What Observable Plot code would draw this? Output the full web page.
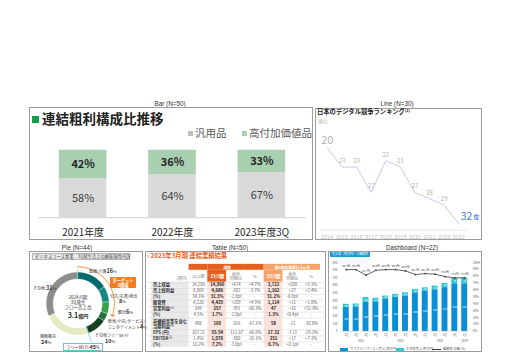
<!DOCTYPE html>
<html><head><meta charset="utf-8">
<script src="https://cdn.jsdelivr.net/npm/d3@7"></script>
<script src="https://cdn.jsdelivr.net/npm/@observablehq/plot@0.6"></script>
<style>
html,body{margin:0;padding:0;background:#fff;}
#root{position:relative;width:511px;height:359px;overflow:hidden;font-family:"Noto Sans CJK JP","Noto Sans",sans-serif;}
.abs{position:absolute;white-space:nowrap;}
.panel{position:absolute;box-sizing:border-box;border:1px solid #9c9c9c;}
svg{overflow:visible;}
</style></head><body><div id="root"></div>
<script>
// ---------- data ----------
const captions = ["Bar (N=50)","Line (N=30)","Pie (N=44)","Table (N=50)","Dashboard (N=22)"];

const barYears = ["2021年度","2022年度","2023年度3Q"];
const barSeries = ["汎用品","高付加価値品"];
const generalShare = [58,64,67];
const premiumShare = [42,36,33];

const rankYears = [2014,2015,2016,2017,2018,2019,2020,2021,2022,2023];
const ranks = [20,23,23,27,22,23,27,28,29,32];

const pieLabels = ["医療/介護","公共/交通/物流","観光","飲食/小売/サービス/エンタテイメント","その他フリーWi-Fi","機器販売","その他"];
const pieValues = [16,8,6,4,10,24,31];

const rowLabels = ["売上収益","売上総利益","(%)","販管費","営業利益⁽¹⁾","(%)","非継続事業を含む\n当期利益⁽²⁾","EPS (円)","EBITDA⁽³⁾","(%)"];
const colHeaders = ["22/3期","23/3期","前年\n同期比","%","23/3期","前年\n同期比","%"];
const groupHeaders = ["通期","第4四半期累計 3ヵ月"];
const fy22   = ["14,286","4,869","34.1%","4,220","649","4.5%","486","167.21","1,456","10.2%"];
const fy23   = ["14,960","4,686","31.3%","4,429","257","1.7%","160","55.54","1,076","7.2%"];
const yoyDiff= ["+674","-182","-2.8pt","+209","-391","-2.8pt","-326","-111.67","-380","-3.0pt"];
const yoyPct = ["+4.7%","-3.7%","-","+4.9%","-60.3%","-","-67.1%","-66.8%","-26.1%","-"];
const q4     = ["3,722","1,162","31.2%","1,114","47","1.3%","58","17.32","251","6.7%"];
const q4Diff = ["+180","+27","-0.8pt","+11","+16","+0.4pt","-21","-7.11","+17","+0.1pt"];
const q4Pct  = ["+5.1%","+2.4%","-","+1.0%","+52.8%","-","-38.8%","-29.1%","+7.1%","-"];

const dashYears = ["2021","2021","2021","2021","2022","2022","2022","2022","2023","2023","2023","2023","2024"];
const dashQuarters = ["1Q","2Q","3Q","4Q","1Q","2Q","3Q","4Q","1Q","2Q","3Q","4Q","1Q"];
const dashSeries = ["サブスクリプション売上(百万円)","その他売上(百万円)"];
const subsRevenue = [315,321,385,388,425,445,464,505,528,545,573,623,623];
const otherRevenue = [40,38,60,45,38,40,42,45,43,48,55,70,78];
const retentionRate = [89.9,89.9,81.7,88.9,89.9,89.9,88.0,82.7,84.1,83.2,79.8,77.9,77.9];
const dashLeftTicks = [0,100,200,300,400,500,600,700,800,900];
const dashRightTicks = [0,10,20,30,40,50,60,70,80,90,100];

// ---------- helpers ----------
const CJK = '"Noto Sans CJK JP","Noto Sans",sans-serif';
const root = document.getElementById("root");
function add(html, css){const d=document.createElement("div");d.className="abs";d.innerHTML=html;Object.assign(d.style,css);root.appendChild(d);return d;}
function label(html,x,y,size,o={}){
  const tx=o.anchor==="middle"?"-50%":o.anchor==="end"?"-100%":"0";
  return add(html,Object.assign({left:x+"px",top:y+"px",fontSize:size+"px",lineHeight:o.lh||"1",color:o.color||"#333",
    fontWeight:o.weight||"normal",transform:`translate(${tx},-50%)`,textAlign:o.anchor==="middle"?"center":"left",fontFamily:o.font||CJK},o.css||{}));
}
function panel(x,y,w,h){const p=document.createElement("div");p.className="panel";Object.assign(p.style,{left:x+"px",top:y+"px",width:w+"px",height:h+"px"});root.appendChild(p);return p;}
function mount(p,svg){svg.style.position="absolute";svg.style.left="-1px";svg.style.top="-1px";p.appendChild(svg);}
const baseStyle={fontFamily:CJK,background:"transparent",overflow:"visible"};

// ---------- captions ----------
const capPos=[[170,104],[397,104],[77,248],[230,248],[412,248]];
captions.forEach((c,i)=>label(c,capPos[i][0],capPos[i][1],6.3,{anchor:"middle",font:'"Liberation Sans",Arial,sans-serif',color:"#333"}));

// ---------- Bar ----------
const barColors=["#d9d9d9","#a8d0b0"];
const barRows=barYears.flatMap((yr,i)=>[{year:yr,series:barSeries[0],value:generalShare[i]},{year:yr,series:barSeries[1],value:premiumShare[i]}]);
const pBar=panel(29,107,284,133);
mount(pBar,Plot.plot({
  width:284,height:133,marginLeft:9,marginRight:5,marginTop:43,marginBottom:22,style:baseStyle,
  x:{domain:barYears,paddingInner:0.467,paddingOuter:0.2335},
  y:{domain:[0,100],axis:null},
  color:{domain:barSeries,range:barColors},
  marks:[
    Plot.barY(barRows,{x:"year",y:"value",fill:"series",order:barSeries}),
    Plot.ruleY([0],{stroke:"#cfcfcf"}),
    Plot.text(barRows,Plot.stackY({x:"year",y:"value",z:"series",order:barSeries,text:d=>d.series===barSeries[1]?d.value+"%":null,fontWeight:"bold",fontSize:11,fill:"#262626"})),
    Plot.text(barRows,Plot.stackY({x:"year",y:"value",z:"series",order:barSeries,text:d=>d.series===barSeries[0]?d.value+"%":null,fontSize:11,fill:"#404040"})),
    Plot.axisX({tickSize:0,tickPadding:11,fontSize:10,fill:"#262626",label:null})
  ]
}));
add("",{left:"32px",top:"115.5px",width:"7px",height:"7px",background:"#12a048"});
label("連結粗利構成比推移",42,119,13.5,{weight:"bold",color:"#222"});
barSeries.forEach((s,i)=>{
  const x=[188,242][i];
  add("",{left:x+"px",top:"130.5px",width:"5px",height:"5px",background:barColors[i]==="#d9d9d9"?"#bfbfbf":barColors[i]});
  label(s,x+7,133,10.5,{color:"#595959"});
});

// ---------- Line ----------
const rankData=rankYears.map((y,i)=>({year:y,rank:ranks[i]}));
const nR=rankData.length;
const pLine=panel(315,108,167,132);
mount(pLine,Plot.plot({
  width:167,height:132,marginLeft:5,marginRight:14,marginTop:40,marginBottom:9,style:baseStyle,
  x:{domain:[2014,2023],range:[12,145]},
  y:{domain:[20,32],range:[40,117],axis:null},
  marks:[
    Plot.frame({anchor:"bottom",stroke:"#e6e6e6"}),
    Plot.line(rankData,{x:"year",y:"rank",stroke:"#c7c9e7",strokeWidth:1}),
    Plot.text(rankData,{filter:(d,i)=>i===0,x:"year",y:"rank",text:d=>String(d.rank),fontSize:11,fill:"#b3b3b3",dy:-8}),
    Plot.text(rankData,{filter:(d,i)=>i>0&&i<nR-1,x:"year",y:"rank",text:d=>String(d.rank),fontSize:6,fill:"#b3b3b3",dy:-6}),
    Plot.text(rankData,{filter:(d,i)=>i===nR-1,x:"year",y:"rank",text:d=>String(d.rank),fontSize:10.5,fill:"#3b7dd8",textAnchor:"start",dx:2,dy:-8}),
    Plot.text(rankData,{filter:(d,i)=>i===nR-1,x:"year",y:"rank",text:()=>"位",fontSize:5.5,fill:"#3b7dd8",fontWeight:"bold",textAnchor:"start",dx:15,dy:-7}),
    Plot.axisX(rankYears,{tickSize:0,tickPadding:5,fontSize:5.5,fill:"#bdbdbd",tickFormat:d=>String(d),label:null})
  ]
}));
label('日本のデジタル競争ランキング<span style="font-size:4px;vertical-align:2px">(2)</span>',317,111.5,6.3,{weight:"bold",color:"#222"});
label("順位",318,120,5,{color:"#b5b5b5"});

// ---------- Pie ----------
const pieColors=["#006a6c","#118a80","#3a9f49","#25733a","#173f22","#e3ebc4","#8d8d8d"];
const innerR=0.78;
const arcs=d3.pie().sort(null).value(d=>d)(pieValues);
const piePts=arcs.flatMap((a,i)=>{
  const n=Math.max(3,Math.ceil((a.endAngle-a.startAngle)/0.04)),pts=[];
  for(let k=0;k<=n;k++){const t=a.startAngle+(a.endAngle-a.startAngle)*k/n;pts.push({slice:pieLabels[i],x:Math.sin(t),y:Math.cos(t)});}
  for(let k=n;k>=0;k--){const t=a.startAngle+(a.endAngle-a.startAngle)*k/n;pts.push({slice:pieLabels[i],x:innerR*Math.sin(t),y:innerR*Math.cos(t)});}
  return pts;
});
const targetEnd=arcs[2].endAngle;
const arrowPts=d3.range(0,41).map(k=>{const t=targetEnd*k/40;return {x:1.17*Math.sin(t),y:1.17*Math.cos(t)};});
const wifiEnd=arcs[4].endAngle;
const ticks=[{a:arcs[0].startAngle,r1:0.8,r2:1.07},{a:wifiEnd,r1:0.78,r2:1.3}].map(d=>({x1:d.r1*Math.sin(d.a),y1:d.r1*Math.cos(d.a),x2:d.r2*Math.sin(d.a),y2:d.r2*Math.cos(d.a)}));
const pPie=panel(29,251,114,101);
mount(pPie,Plot.plot({
  width:114,height:101,margin:0,style:baseStyle,
  x:{domain:[-1,1],range:[17,81],axis:null},
  y:{domain:[-1,1],range:[85,21],axis:null},
  color:{domain:pieLabels,range:pieColors},
  marks:[
    Plot.line(piePts,{x:"x",y:"y",z:"slice",fill:"slice",stroke:"white",strokeWidth:0.3,curve:"linear-closed"}),
    Plot.line(arrowPts,{x:"x",y:"y",stroke:"#f08022",strokeWidth:0.9,markerEnd:"arrow"}),
    Plot.link(ticks,{x1:"x1",y1:"y1",x2:"x2",y2:"y2",stroke:"#74cfd6",strokeWidth:0.8})
  ]
}));
add('ビジネスユース事業　3Q発生売上の顧客属性内訳',{left:"32px",top:"253px",width:"98px",height:"6.5px",background:"#e8e8e8",border:"0.5px solid #b5b5b5",boxSizing:"border-box",fontSize:"4.3px",lineHeight:"5.5px",color:"#444",paddingLeft:"2px"});
const pl=(h,x,y,s,o)=>label(h,x,y,s||4,o||{color:"#333"});
pl('医療/介護<b style="font-size:5.5px">16</b>%',89,272);
add('ターゲット<br>3領域',{left:"110px",top:"277px",width:"26px",height:"11px",background:"#f47c20",color:"#fff",fontSize:"4.2px",lineHeight:"5px",textAlign:"center",fontWeight:"bold",paddingTop:"0.5px",boxSizing:"border-box"});
pl('公共/交通/物流',110,295.5);
pl('<b style="font-size:5.5px">8</b>%',119,302);
pl('観光<b style="font-size:5.5px">6</b>%',118,313);
pl('飲食/小売/サービス/',108,321);
pl('エンタテイメント<b style="font-size:5.5px">4</b>%',108,327.5);
pl('その他フリーWi-Fi',95,335);
pl('<b style="font-size:5.5px">10</b>%',105,341.5);
pl('機器販売',40,336);
pl('<b style="font-size:5.5px">24</b>%',41,342.5);
pl('その他 <b style="font-size:5.5px">31</b>%',33,289);
add('フリーWi-Fi <b style="font-size:5.5px">45</b>%',{left:"63px",top:"343px",width:"40px",height:"8px",border:"0.8px solid #63c8d0",background:"#fff",boxSizing:"border-box",fontSize:"4.2px",lineHeight:"6.5px",textAlign:"center",color:"#333"});
label('2024/6期<br>3Q発生<br>フロー売上高',78,302,4.5,{anchor:"middle",lh:"5px",color:"#333"});
label('<b style="font-size:7px">3.1</b><b>億円</b>',78,315,5,{anchor:"middle",color:"#222"});

// ---------- Table ----------
const colKeys=["L1","L2","c0","c1","c2","c3","c4","c5","c6"];
const valKeys=colKeys.slice(2);
const rowKeys=["gh","sh1","sh2","r0","r1","r2","r3","r4","r5","r6a","r6b","r7","r8","r9"];
const bodyKeys=["r0","r1","r2","r3","r4","r5","r6a","r7","r8","r9"];
const bodySlots=bodyKeys.concat(["r6b"]);
const tableCols=[fy22,fy23,yoyDiff,yoyPct,q4,q4Diff,q4Pct];
const tH=101,tTop=9,bw=(tH-tTop)/rowKeys.length,cw=(181-2)/colKeys.length;
const cells=[];
rowLabels.forEach((lab,i)=>tableCols.forEach((col,j)=>cells.push({row:bodyKeys[i],col:valKeys[j],text:col[i],bold:j===1||j===4,dbl:bodyKeys[i]==="r6a"})));
const labelRows=rowLabels.map((lab,i)=>({row:bodyKeys[i],col:"L1",text:lab,dbl:bodyKeys[i]==="r6a"}));
const bgLabel=bodySlots.flatMap(r=>["L1","L2"].map(c=>({row:r,col:c})));
const bgPink=bodySlots.flatMap(r=>["c1","c4"].map(c=>({row:r,col:c})));
const ghCells=valKeys.map((c,j)=>({row:"gh",col:c,g:j<4?0:1}));
const shCells=["sh1","sh2"].flatMap(r=>[{row:r,col:"c1",g:0},{row:r,col:"c4",g:1}]);
const subHead=colHeaders.map((h,j)=>({row:"sh1",col:valKeys[j],text:h,hl:j===1||j===4}));
const groupText=[{row:"gh",col:"c1",text:groupHeaders[0],dx:cw/2},{row:"gh",col:"c5",text:groupHeaders[1],dx:0}];
const lineKeys=["sh2","r0","r1","r2","r3","r4","r5","r6b","r7","r8"];
const pTab=panel(145,251,181,101);
const orangeD="#e4601e",orangeL="#f4a46b";
mount(pTab,Plot.plot({
  width:181,height:tH,marginLeft:2,marginRight:0,marginTop:tTop,marginBottom:0,style:baseStyle,
  x:{domain:colKeys,padding:0,axis:null},
  y:{domain:rowKeys,padding:0,axis:null},
  marks:[
    Plot.cell(bgLabel,{x:"col",y:"row",fill:"#e9e9e9"}),
    Plot.cell(bgPink,{x:"col",y:"row",fill:"#fbe3db"}),
    Plot.cell(ghCells,{filter:d=>d.g===0,x:"col",y:"row",fill:orangeD}),
    Plot.cell(ghCells,{filter:d=>d.g===1,x:"col",y:"row",fill:orangeL}),
    Plot.cell(shCells,{filter:d=>d.g===0,x:"col",y:"row",fill:orangeD}),
    Plot.cell(shCells,{filter:d=>d.g===1,x:"col",y:"row",fill:orangeL}),
    Plot.ruleY(lineKeys,{dy:bw/2,stroke:"#d2d2d2",strokeWidth:0.5}),
    Plot.text(groupText,{filter:d=>d.dx>0,x:"col",y:"row",text:"text",dx:cw/2,fill:"white",fontWeight:"bold",fontSize:3.8}),
    Plot.text(groupText,{filter:d=>d.dx===0,x:"col",y:"row",text:"text",fill:"white",fontWeight:"bold",fontSize:3.8}),
    Plot.text(subHead,{filter:d=>d.hl,x:"col",y:"row",text:"text",dy:bw/2,fill:"white",fontWeight:"bold",fontSize:4.3}),
    Plot.text(subHead,{filter:d=>!d.hl,x:"col",y:"row",text:"text",dy:bw/2,fill:"#808080",fontSize:4.1,lineHeight:1.15}),
    Plot.text([{row:"sh2",col:"L2",text:"(億円)"}],{x:"col",y:"row",text:"text",textAnchor:"end",dx:cw/2-2,fill:"#808080",fontSize:4.1}),
    Plot.text(labelRows,{filter:d=>!d.dbl,x:"col",y:"row",text:"text",textAnchor:"start",dx:-cw/2+2,fill:"#333",fontWeight:"bold",fontSize:4.3}),
    Plot.text(labelRows,{filter:d=>d.dbl,x:"col",y:"row",text:"text",textAnchor:"start",dx:-cw/2+2,dy:bw/2,fill:"#333",fontWeight:"bold",fontSize:4.3,lineHeight:1.2}),
    Plot.text(cells,{filter:d=>d.bold&&!d.dbl,x:"col",y:"row",text:"text",fill:"#222",fontWeight:"bold",fontSize:4.3}),
    Plot.text(cells,{filter:d=>!d.bold&&!d.dbl,x:"col",y:"row",text:"text",fill:"#5a5a5a",fontSize:4.3}),
    Plot.text(cells,{filter:d=>d.bold&&d.dbl,x:"col",y:"row",text:"text",dy:bw/2,fill:"#222",fontWeight:"bold",fontSize:4.3}),
    Plot.text(cells,{filter:d=>!d.bold&&d.dbl,x:"col",y:"row",text:"text",dy:bw/2,fill:"#5a5a5a",fontSize:4.3})
  ]
}));
label('› 2023年3月期 連結業績結果',147,255.5,6.3,{weight:"bold",color:orangeD});

// ---------- Dashboard ----------
const dashKeys=dashYears.map((y,i)=>y+"-"+i);
const dashRows=dashKeys.flatMap((k,i)=>[{key:k,series:dashSeries[0],value:subsRevenue[i]},{key:k,series:dashSeries[1],value:otherRevenue[i]}]);
const retData=dashKeys.map((k,i)=>({key:k,rate:retentionRate[i]}));
const dashColors=["#0b8fd4","#2ec6d2"];
const yearGroups=d3.groups(dashKeys.map((k,i)=>({k,y:dashYears[i]})),d=>d.y).map(([y,arr])=>({year:y,key:arr[Math.floor((arr.length-1)/2)].k,even:arr.length%2===0}));
const pDash=panel(328,251,154,101);
mount(pDash,Plot.plot({
  width:154,height:101,marginLeft:12.7,marginRight:11.3,marginTop:11.3,marginBottom:20,style:baseStyle,
  x:{domain:dashKeys,paddingInner:0.45,paddingOuter:0.225},
  y:{domain:[0,900],range:[81,11.3]},
  color:{domain:dashSeries,range:dashColors},
  marks:[
    Plot.barY(dashRows,{x:"key",y:"value",fill:"series",order:dashSeries}),
    Plot.text(dashRows,Plot.stackY({x:"key",y:"value",z:"series",order:dashSeries,text:d=>String(d.value),fill:"white",fontSize:2.6})),
    Plot.line(retData,{x:"key",y:d=>d.rate*9,stroke:"#3a3a3a",strokeWidth:0.8}),
    Plot.dot(retData,{x:"key",y:d=>d.rate*9,r:0.9,fill:"#3a3a3a"}),
    Plot.text(retData,{x:"key",y:d=>d.rate*9,text:d=>d.rate.toFixed(1)+"%",dy:-4,fontSize:2.8,fill:"#333"}),
    Plot.axisY(dashLeftTicks,{anchor:"left",tickSize:0,tickPadding:3.7,fontSize:2.9,fill:"#666",label:null}),
    Plot.axisY(dashRightTicks.map(v=>v*9),{anchor:"right",tickSize:0,tickPadding:3.5,fontSize:2.9,fill:"#666",label:null,tickFormat:v=>Math.round(v/9)+"%"}),
    Plot.axisX({tickSize:0,tickPadding:3,fontSize:2.9,fill:"#666",label:null,tickFormat:k=>dashQuarters[dashKeys.indexOf(k)]}),
    Plot.ruleY([0],{stroke:"#bbb",strokeWidth:0.4}),
    Plot.text(yearGroups,{filter:d=>!d.even,x:"key",text:"year",frameAnchor:"bottom",dy:10.3,fontSize:2.9,fill:"#666"}),
    Plot.text(yearGroups,{filter:d=>d.even,x:"key",text:"year",frameAnchor:"bottom",dx:5,dy:10.3,fontSize:2.9,fill:"#666"})
  ]
}));
add('売上高（百万円）と継続率',{left:"330px",top:"252px",width:"40px",height:"5px",background:"#1c9ad6",color:"#fff",fontSize:"3px",lineHeight:"5px",paddingLeft:"2px",boxSizing:"border-box"});
const legY=349;
add("",{left:"340px",top:(legY-1.5)+"px",width:"8px",height:"3px",background:dashColors[0]});
label(dashSeries[0],350,legY,3.2,{color:"#555"});
add("",{left:"396px",top:(legY-1.5)+"px",width:"8px",height:"3px",background:dashColors[1]});
label(dashSeries[1],406,legY,3.2,{color:"#555"});
add("",{left:"432px",top:(legY-0.4)+"px",width:"9px",height:"0.8px",background:"#3a3a3a"});
label("継続率(右軸, %)",443,legY,3.2,{color:"#555"});
</script></body></html>
